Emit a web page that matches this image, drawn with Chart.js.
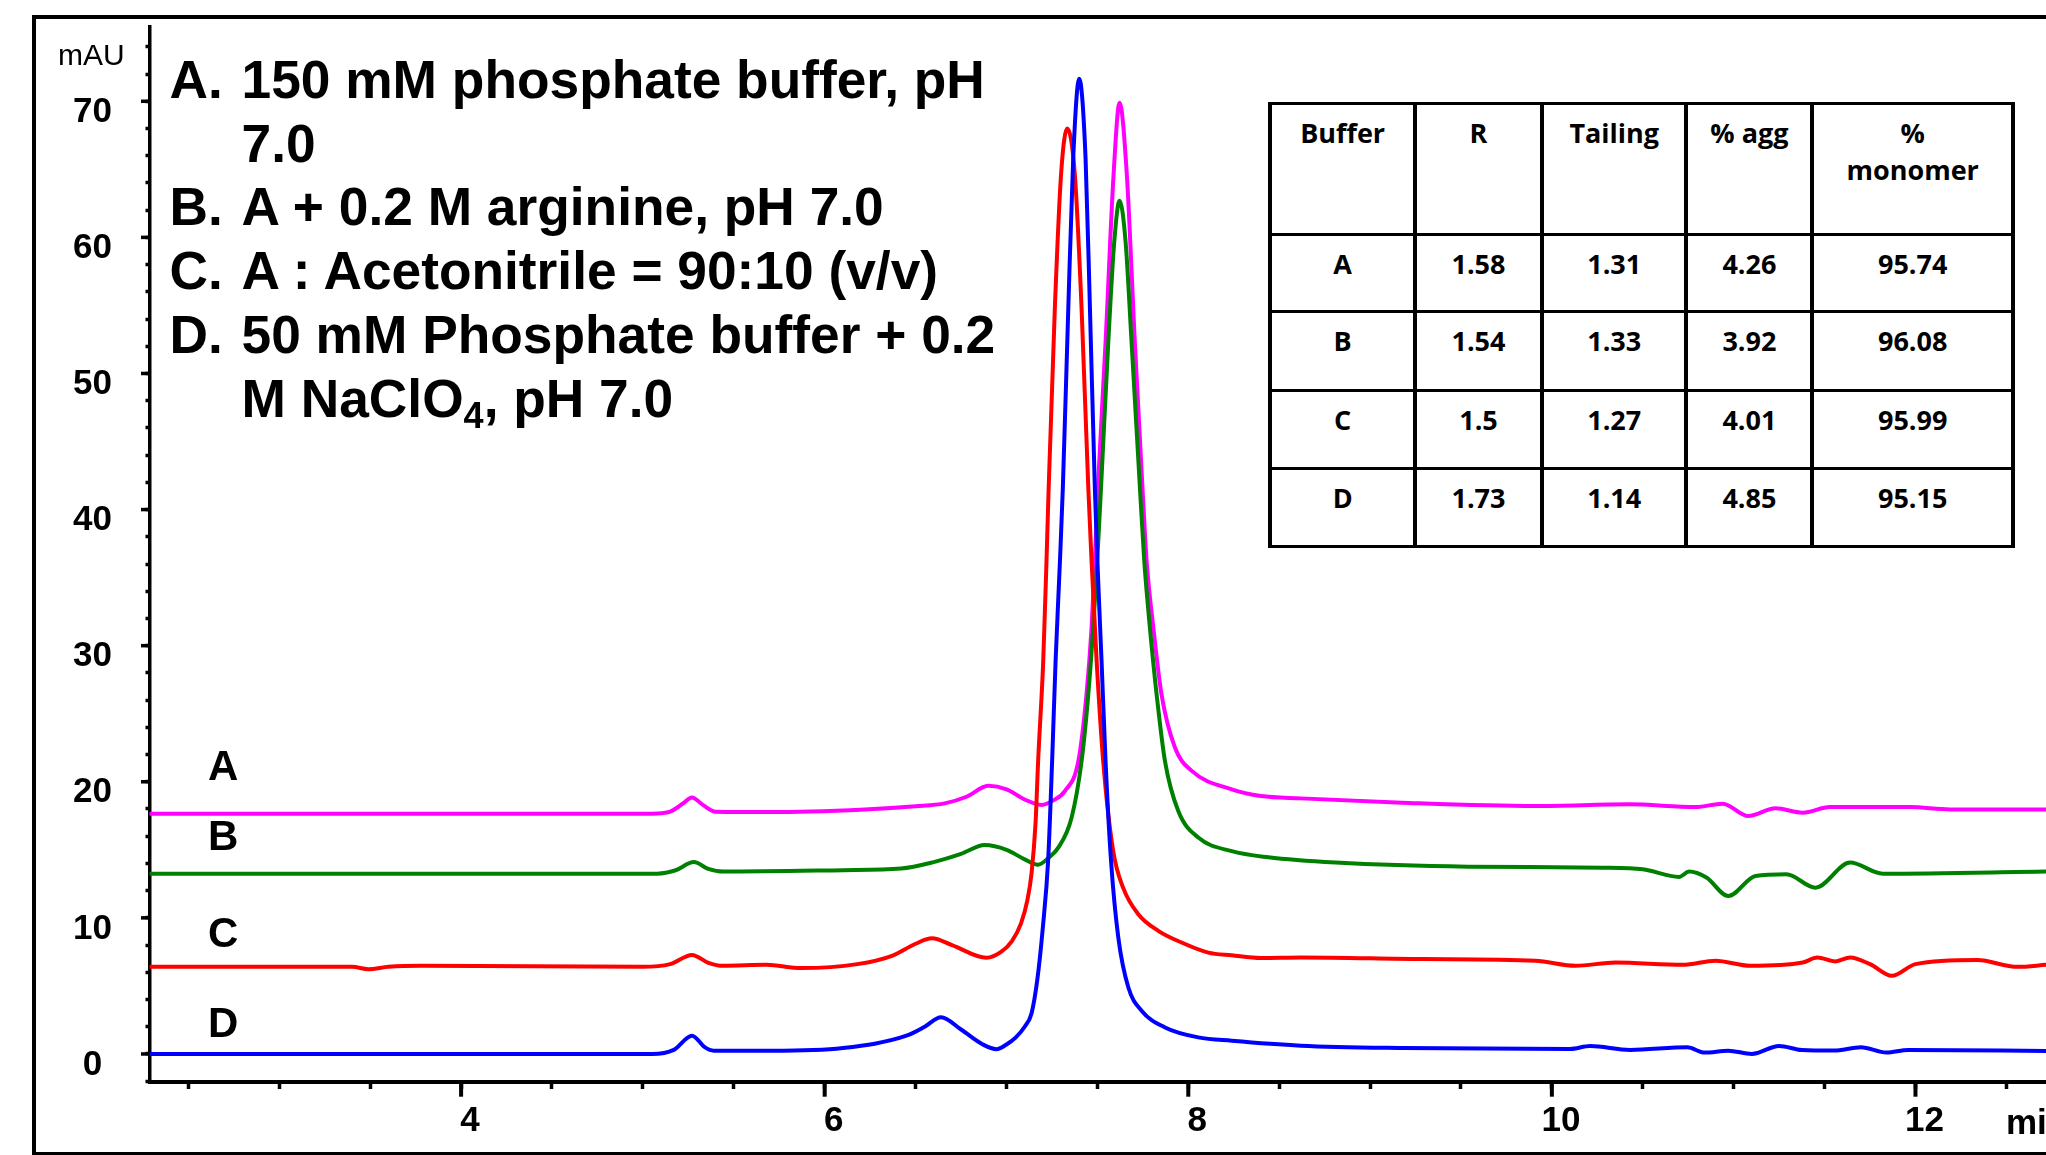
<!DOCTYPE html>
<html><head><meta charset="utf-8">
<script src="https://cdn.jsdelivr.net/npm/chart.js@4.4.1/dist/chart.umd.min.js"></script>
<style>
html,body{margin:0;padding:0;background:#fff;overflow:hidden;}
#wrap{position:relative;width:2046px;height:1155px;overflow:hidden;font-family:'Liberation Sans',Arial,sans-serif;color:#000;}
#frame{position:absolute;left:32px;top:15px;width:2100px;height:1140px;box-sizing:border-box;border-top:4px solid #000;border-left:4px solid #000;border-bottom:3px solid #000;}
canvas{position:absolute;left:0;top:0;}
.lbl{position:absolute;font-weight:bold;white-space:nowrap;line-height:1;}
#legend{position:absolute;left:169.5px;top:47.9px;font-weight:bold;font-size:53.3px;line-height:63.8px;display:grid;grid-template-columns:72px auto;white-space:nowrap;}
#legend sub{font-size:36px;vertical-align:-11px;line-height:0;}
#tbl{position:absolute;left:1268.3px;top:101.8px;display:grid;background:#000;padding:3px 4px;gap:3px 4px;grid-template-columns:140.7px 123px 140.5px 121.9px 196.6px;grid-template-rows:128px 74.4px 76px 75.3px 74.7px;font-family:'Open Sans',Lato,sans-serif;font-weight:bold;font-size:27px;line-height:37px;}
#tbl div{background:#fff;text-align:center;padding-top:9px;box-sizing:border-box;}
</style></head>
<body>
<div id="wrap">
  <div id="frame"></div>
  <canvas id="c" width="2046" height="1155"></canvas>
  <div class="lbl" style="left:58px;top:39.6px;font-size:30px;font-weight:normal;">mAU</div>
  <div class="lbl" style="left:2006px;top:1104.4px;font-size:35px;">min</div>
  <div class="lbl" style="left:208px;top:744.5px;font-size:42px;">A</div>
  <div class="lbl" style="left:208px;top:814.5px;font-size:42px;">B</div>
  <div class="lbl" style="left:208px;top:911.5px;font-size:42px;">C</div>
  <div class="lbl" style="left:208px;top:1002.2px;font-size:42px;">D</div>
  <div id="legend">
    <div>A.</div><div>150 mM phosphate buffer, pH<br>7.0</div>
    <div>B.</div><div>A + 0.2 M arginine, pH 7.0</div>
    <div>C.</div><div>A : Acetonitrile = 90:10 (v/v)</div>
    <div>D.</div><div>50 mM Phosphate buffer + 0.2<br>M NaClO<sub>4</sub>, pH 7.0</div>
  </div>
  <div id="tbl"></div>
</div>
<script>
// ---- chromatogram data (time in min, signal in mAU) ----
const timeA = [2.29,5.05,5.15,5.22,5.27,5.33,5.40,5.70,6.22,6.50,6.66,6.78,6.90,7.00,7.10,7.193,7.26,7.321,7.395,7.44,7.468,7.486,7.503,7.545,7.589,7.622,7.662,7.706,7.748,7.771,7.808,7.853,7.927,8.019,8.239,8.40,8.62,9.175,9.91,10.425,10.79,10.94,11.08,11.23,11.38,11.53,11.97,12.19,12.72];
const signalA = [17.65,17.65,17.8,18.4,18.85,18.3,17.8,17.77,17.97,18.2,18.41,18.9,19.7,19.45,18.7,18.3,18.65,19.32,21.5,26.4,31.3,36.19,41.6,52.3,64.6,69.9,64.6,52.3,41.6,36.19,31.3,26.4,22.5,20.8,19.44,18.95,18.78,18.46,18.22,18.34,18.14,18.39,17.48,18.05,17.73,18.14,18.14,17.97,17.97];

const timeB = [2.29,5.08,5.18,5.28,5.36,5.44,6.10,6.42,6.60,6.75,6.88,7.00,7.10,7.174,7.23,7.285,7.358,7.413,7.45,7.477,7.499,7.52,7.56,7.593,7.622,7.655,7.688,7.734,7.758,7.789,7.826,7.872,7.945,8.055,8.239,8.44,8.81,9.54,10.28,10.50,10.70,10.755,10.85,10.97,11.12,11.29,11.45,11.64,11.82,12.72];
const signalB = [13.25,13.25,13.5,14.1,13.6,13.4,13.5,13.62,14.1,14.7,15.35,15.0,14.3,13.9,14.4,15.16,17.36,21.5,26.4,31.3,36.19,41.6,52.3,59.7,62.7,59.7,52.3,41.6,36.19,31.3,26.4,21.5,17.85,15.9,14.9,14.45,14.06,13.76,13.69,13.57,13.01,13.4,12.96,11.61,13.08,13.2,12.22,14.06,13.25,13.4];

const timeC = [2.29,3.40,3.49,3.60,3.78,5.00,5.15,5.27,5.36,5.44,5.68,5.87,6.18,6.37,6.50,6.59,6.70,6.89,6.97,7.03,7.08,7.115,7.138,7.16,7.174,7.202,7.22,7.232,7.266,7.30,7.334,7.376,7.413,7.45,7.468,7.496,7.532,7.587,7.642,7.725,7.835,7.963,8.11,8.239,8.40,8.62,9.285,9.91,10.13,10.35,10.72,10.90,11.09,11.38,11.46,11.56,11.64,11.75,11.87,12.00,12.34,12.56,12.72];
const signalC = [6.40,6.40,6.23,6.4,6.48,6.40,6.6,7.28,6.7,6.48,6.55,6.31,6.6,7.21,8.1,8.5,8.0,7.07,7.5,8.3,9.6,11.3,13.3,17.0,21.5,28.85,36.19,41.6,54.8,64.6,68.0,64.6,54.8,41.6,36.19,28.85,21.5,14.9,12.2,10.27,9.05,8.19,7.45,7.25,7.05,7.09,6.97,6.85,6.48,6.72,6.55,6.85,6.48,6.72,7.09,6.8,7.09,6.6,5.74,6.6,6.9,6.4,6.55];

const timeD = [2.29,5.05,5.17,5.27,5.34,5.39,5.71,6.10,6.45,6.55,6.64,6.75,6.87,6.945,7.00,7.05,7.10,7.138,7.17,7.20,7.229,7.251,7.27,7.294,7.31,7.34,7.367,7.40,7.435,7.459,7.486,7.50,7.523,7.545,7.575,7.615,7.67,7.743,7.872,8.055,8.239,8.62,9.175,10.10,10.21,10.43,10.745,10.84,10.97,11.10,11.25,11.375,11.55,11.70,11.84,11.96,12.72];
const signalD = [0,0,0.3,1.34,0.5,0.24,0.24,0.44,1.34,2.0,2.7,1.8,0.7,0.35,0.7,1.2,2.0,3.0,5.5,9.3,14.2,21.5,28.85,36.19,41.6,54.8,65.8,71.66,65.8,54.8,41.6,36.19,28.85,21.5,14.2,8.56,4.9,3.18,1.95,1.22,0.97,0.61,0.44,0.37,0.59,0.3,0.49,0.1,0.24,0.0,0.59,0.29,0.25,0.49,0.1,0.29,0.22];

// ---- axes ----
const xTickLabels = ['4','6','8','10','12'];
const yTickLabels = ['0','10','20','30','40','50','60','70'];
const xMinorStep = 0.5;
const yMinorStep = 2;
const xRange = [2.286, 12.718];
const yRange = [-2.06, 75.48];

// ---- table ----
const tableHeader = ['Buffer','R','Tailing','% agg','%<br>monomer'];
const tableBuffer = ['A','B','C','D'];
const tableR = ['1.58','1.54','1.5','1.73'];
const tableTailing = ['1.31','1.33','1.27','1.14'];
const tableAgg = ['4.26','3.92','4.01','4.85'];
const tableMonomer = ['95.74','96.08','95.99','95.15'];

const tbl = document.getElementById('tbl');
let html = tableHeader.map(h => '<div>' + h + '</div>').join('');
tableBuffer.forEach((b, i) => {
  [b, tableR[i], tableTailing[i], tableAgg[i], tableMonomer[i]].forEach(v => { html += '<div>' + v + '</div>'; });
});
tbl.innerHTML = html;

const xMajor = xTickLabels.map(Number);
const yMajor = yTickLabels.map(Number);
const pts = (t, s) => t.map((x, i) => ({x: x, y: s[i]}));

function stepTicks(min, max, step) {
  const out = [];
  for (let k = Math.ceil(min / step); k * step <= max + 1e-9; k++) out.push({value: +(k * step).toFixed(6)});
  return out;
}

const majorTicks = {
  id: 'majorTicks',
  afterDraw(chart) {
    const {ctx, chartArea, scales} = chart;
    ctx.save();
    ctx.strokeStyle = '#000';
    ctx.lineWidth = 4;
    xMajor.forEach(v => {
      const px = scales.x.getPixelForValue(v);
      ctx.beginPath(); ctx.moveTo(px, chartArea.bottom); ctx.lineTo(px, chartArea.bottom + 14.7); ctx.stroke();
    });
    ctx.lineWidth = 3.5;
    yMajor.forEach(v => {
      const py = scales.y.getPixelForValue(v);
      ctx.beginPath(); ctx.moveTo(chartArea.left, py); ctx.lineTo(chartArea.left - 8.5, py); ctx.stroke();
    });
    ctx.restore();
  }
};

const tickFont = {family: "'Liberation Sans', Arial, sans-serif", weight: 'bold', size: 35};

new Chart(document.getElementById('c'), {
  type: 'line',
  data: {
    datasets: [
      {label: 'D', data: pts(timeD, signalD), borderColor: '#0000FF'},
      {label: 'C', data: pts(timeC, signalC), borderColor: '#FF0000'},
      {label: 'B', data: pts(timeB, signalB), borderColor: '#008000'},
      {label: 'A', data: pts(timeA, signalA), borderColor: '#FF00FF'}
    ]
  },
  options: {
    responsive: false,
    animation: false,
    devicePixelRatio: 1,
    layout: {padding: {left: 0, right: 0, top: 26.7, bottom: 0}},
    plugins: {legend: {display: false}, tooltip: {enabled: false}, title: {display: false}},
    elements: {
      point: {radius: 0},
      line: {borderWidth: 4, cubicInterpolationMode: 'monotone', borderJoinStyle: 'round', borderCapStyle: 'round', fill: false}
    },
    scales: {
      x: {
        type: 'linear', min: xRange[0], max: xRange[1],
        afterBuildTicks: s => { s.ticks = stepTicks(xRange[0], xRange[1], xMinorStep); },
        afterFit: s => { s.height = 73; s.paddingLeft = 0; s.paddingRight = 0; },
        border: {display: true, color: '#000', width: 4},
        grid: {display: true, drawOnChartArea: false, drawTicks: true, tickLength: 7, tickWidth: 3.5, tickColor: '#000'},
        ticks: {
          autoSkip: false, maxRotation: 0, minRotation: 0, padding: 11, labelOffset: 9, color: '#000', font: tickFont,
          callback: v => { const i = xMajor.indexOf(v); return i >= 0 ? xTickLabels[i] : ''; }
        }
      },
      y: {
        type: 'linear', min: yRange[0], max: yRange[1],
        afterBuildTicks: s => { s.ticks = stepTicks(yRange[0], yRange[1], yMinorStep); },
        afterFit: s => { s.width = 149.5; s.paddingTop = 0; s.paddingBottom = 0; },
        border: {display: true, color: '#000', width: 3.5},
        grid: {display: true, drawOnChartArea: false, drawTicks: true, tickLength: 4, tickWidth: 3.5, tickColor: '#000'},
        ticks: {
          autoSkip: false, padding: 33.5, labelOffset: 11, crossAlign: 'center', color: '#000', font: tickFont,
          callback: v => { const i = yMajor.indexOf(v); return i >= 0 ? yTickLabels[i] : ''; }
        }
      }
    }
  },
  plugins: [majorTicks]
});
</script>
</body></html>
